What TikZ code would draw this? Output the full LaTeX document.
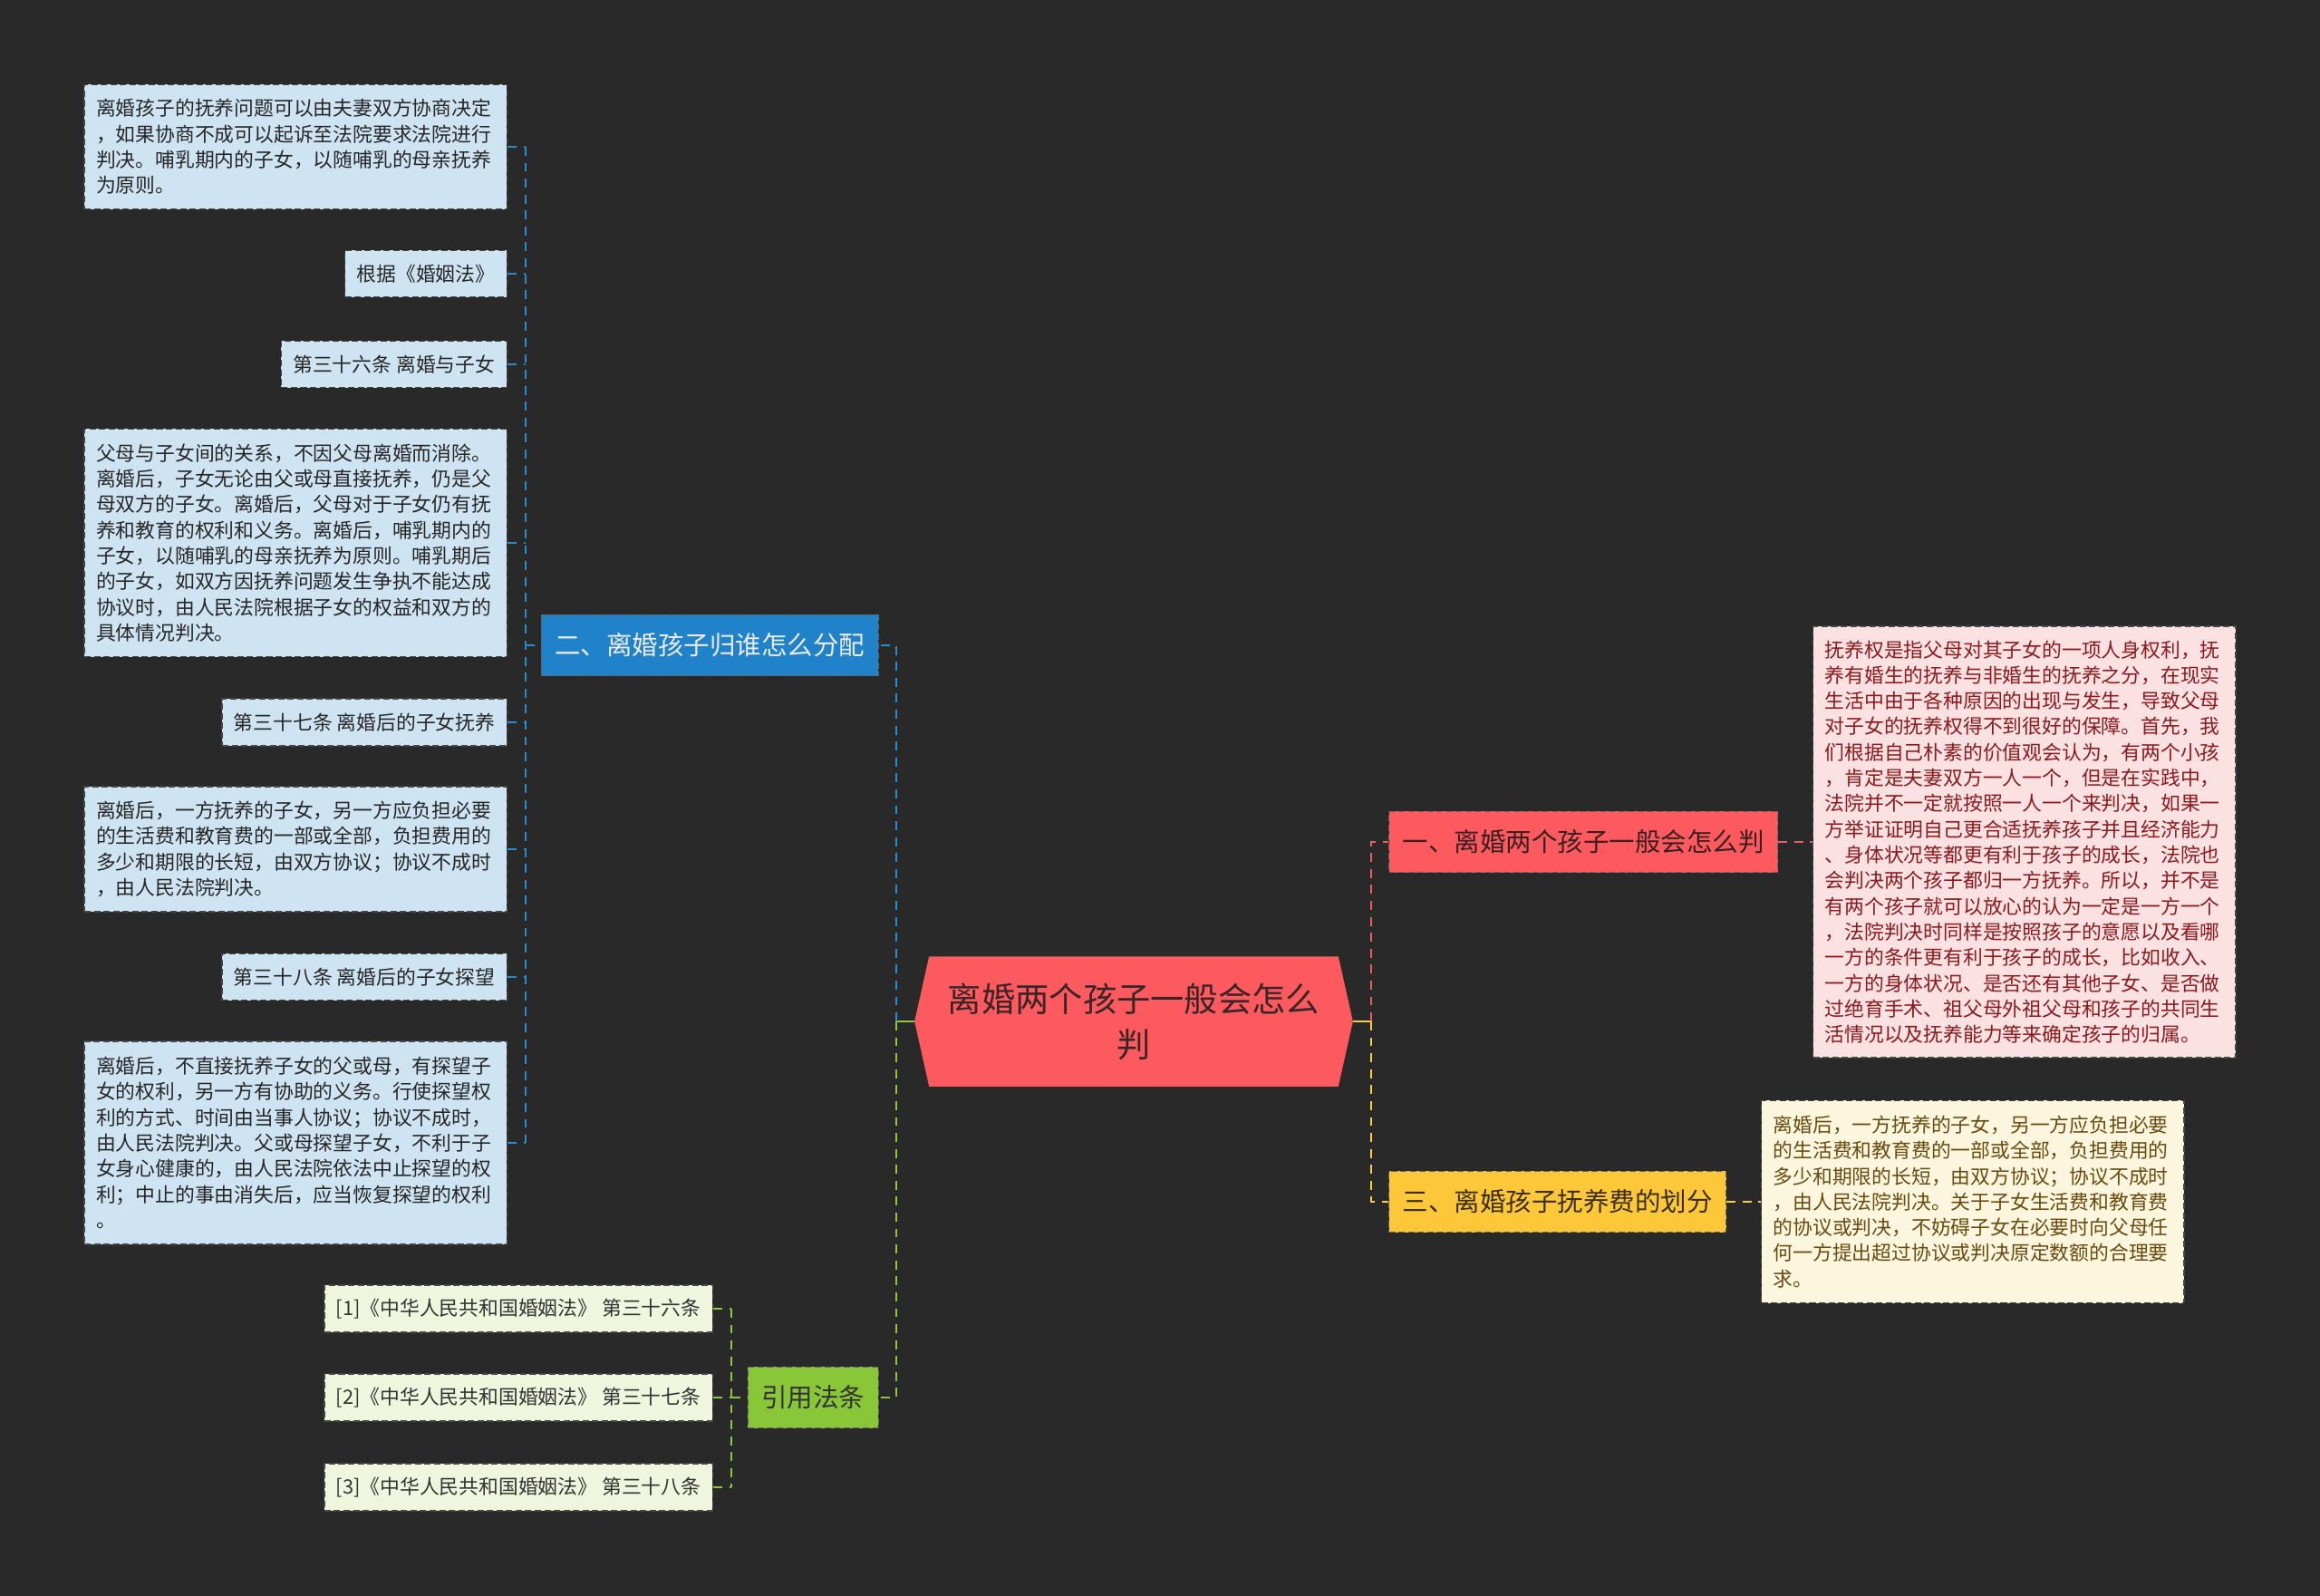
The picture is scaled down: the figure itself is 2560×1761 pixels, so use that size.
\documentclass[tikz,border=0pt]{standalone}
\usepackage{fontspec}
\setmainfont{Noto Sans CJK SC}
\usepackage{xcolor}
\usepackage{tikz}
\usetikzlibrary{backgrounds}
\definecolor{bgdark}{RGB}{41,41,41}
\definecolor{leafline}{RGB}{70,70,70}
\definecolor{bluepale}{RGB}{207,228,242}
\definecolor{greenpale}{RGB}{240,245,222}
\definecolor{pinkpale}{RGB}{252,225,227}
\definecolor{cream}{RGB}{253,246,222}
\definecolor{custblue}{RGB}{32,130,200}
\definecolor{rootred}{RGB}{252,90,94}
\definecolor{judgered}{RGB}{252,90,94}
\definecolor{supportamber}{RGB}{252,200,58}
\definecolor{citegreen}{RGB}{137,198,56}
\definecolor{linkblue}{RGB}{40,140,210}
\definecolor{linkred}{RGB}{235,95,100}
\definecolor{linkyellow}{RGB}{250,205,70}
\definecolor{linkgreen}{RGB}{140,200,60}
\definecolor{darkred}{RGB}{140,26,28}
\definecolor{brown}{RGB}{105,75,15}

\begin{document}
\begin{tikzpicture}[x=0.01cm, y=-0.01cm,
    leaf/.style={draw=leafline, dash pattern=on 2pt off 1pt, line width=0.4pt,
                 font=\fontsize{6.2pt}{8.05pt}\selectfont, inner xsep=0.13cm,
                 inner ysep=0.06cm, align=left},
    blueleaf/.style={leaf, fill=bluepale, text=black!85},
    greenleaf/.style={leaf, fill=greenpale, text=black!80},
    branch/.style={draw=black!60, dash pattern=on 2pt off 1pt, line width=0.4pt,
                   font=\fontsize{8.1pt}{10pt}\selectfont, inner xsep=0.15cm,
                   minimum height=0.67cm},
    link/.style={line width=0.6pt, dash pattern=on 2.8pt off 2.2pt},
    bluelink/.style={link, linkblue},
    redlink/.style={link, linkred},
    yellowlink/.style={link, linkyellow},
    greenlink/.style={link, linkgreen}]

% root
\node[minimum width=4.82cm, minimum height=1.42cm, align=center, text={rgb,255:red,58;green,36;blue,38},
      font=\fontsize{10.6pt}{14.2pt}\selectfont] (root) at (1251,1127) {离婚两个孩子一般会怎么\\判};

% branches
\node[branch, fill=custblue, text=white!92!black, anchor=east] (custody) at (970,712) {二、离婚孩子归谁怎么分配};
\node[branch, fill=citegreen, text=black!80, anchor=east] (cite) at (970,1542) {引用法条};
\node[branch, fill=judgered, text={rgb,255:red,58;green,30;blue,32}, anchor=west] (judge) at (1532,929) {一、离婚两个孩子一般会怎么判};
\node[branch, fill=supportamber, text={rgb,255:red,60;green,44;blue,16}, anchor=west] (support) at (1532,1326) {三、离婚孩子抚养费的划分};

% custody leaves
\node[blueleaf, text width=4.40cm, minimum height=1.37cm, anchor=east] (cus1) at (560,162)
  {离婚孩子的抚养问题可以由夫妻双方协商决定\\，如果协商不成可以起诉至法院要求法院进行\\判决。哺乳期内的子女，以随哺乳的母亲抚养\\为原则。};
\node[blueleaf, minimum height=0.51cm, anchor=east] (cus2) at (560,302) {根据《婚姻法》};
\node[blueleaf, minimum height=0.51cm, anchor=east] (cus3) at (560,402) {第三十六条 离婚与子女};
\node[blueleaf, text width=4.40cm, minimum height=2.51cm, anchor=east] (cus4) at (560,599)
  {父母与子女间的关系，不因父母离婚而消除。\\离婚后，子女无论由父或母直接抚养，仍是父\\母双方的子女。离婚后，父母对于子女仍有抚\\养和教育的权利和义务。离婚后，哺乳期内的\\子女，以随哺乳的母亲抚养为原则。哺乳期后\\的子女，如双方因抚养问题发生争执不能达成\\协议时，由人民法院根据子女的权益和双方的\\具体情况判决。};
\node[blueleaf, minimum height=0.52cm, anchor=east] (cus5) at (560,797) {第三十七条 离婚后的子女抚养};
\node[blueleaf, text width=4.40cm, minimum height=1.38cm, anchor=east] (cus6) at (560,937)
  {离婚后，一方抚养的子女，另一方应负担必要\\的生活费和教育费的一部或全部，负担费用的\\多少和期限的长短，由双方协议；协议不成时\\，由人民法院判决。};
\node[blueleaf, minimum height=0.51cm, anchor=east] (cus7) at (560,1078) {第三十八条 离婚后的子女探望};
\node[blueleaf, text width=4.40cm, minimum height=2.24cm, anchor=east] (cus8) at (560,1261)
  {离婚后，不直接抚养子女的父或母，有探望子\\女的权利，另一方有协助的义务。行使探望权\\利的方式、时间由当事人协议；协议不成时，\\由人民法院判决。父或母探望子女，不利于子\\女身心健康的，由人民法院依法中止探望的权\\利；中止的事由消失后，应当恢复探望的权利\\。};

% cited articles
\node[greenleaf, minimum height=0.52cm, anchor=east] (art1) at (787,1444) {[1]《中华人民共和国婚姻法》 第三十六条};
\node[greenleaf, minimum height=0.52cm, anchor=east] (art2) at (787,1542) {[2]《中华人民共和国婚姻法》 第三十七条};
\node[greenleaf, minimum height=0.52cm, anchor=east] (art3) at (787,1641) {[3]《中华人民共和国婚姻法》 第三十八条};

% right leaves
\node[leaf, fill=pinkpale, text=darkred, text width=4.40cm, minimum height=4.76cm, anchor=west] (judgetxt) at (2000,929)
  {抚养权是指父母对其子女的一项人身权利，抚\\养有婚生的抚养与非婚生的抚养之分，在现实\\生活中由于各种原因的出现与发生，导致父母\\对子女的抚养权得不到很好的保障。首先，我\\们根据自己朴素的价值观会认为，有两个小孩\\，肯定是夫妻双方一人一个，但是在实践中，\\法院并不一定就按照一人一个来判决，如果一\\方举证证明自己更合适抚养孩子并且经济能力\\、身体状况等都更有利于孩子的成长，法院也\\会判决两个孩子都归一方抚养。所以，并不是\\有两个孩子就可以放心的认为一定是一方一个\\，法院判决时同样是按照孩子的意愿以及看哪\\一方的条件更有利于孩子的成长，比如收入、\\一方的身体状况、是否还有其他子女、是否做\\过绝育手术、祖父母外祖父母和孩子的共同生\\活情况以及抚养能力等来确定孩子的归属。};
\node[leaf, fill=cream, text=brown, text width=4.40cm, minimum height=2.23cm, anchor=west] (supporttxt) at (1943,1326)
  {离婚后，一方抚养的子女，另一方应负担必要\\的生活费和教育费的一部或全部，负担费用的\\多少和期限的长短，由双方协议；协议不成时\\，由人民法院判决。关于子女生活费和教育费\\的协议或判决，不妨碍子女在必要时向父母任\\何一方提出超过协议或判决原定数额的合理要\\求。};

% connectors
\coordinate (lj) at ([xshift=-0.2cm]root.west);
\coordinate (rj) at ([xshift=0.2cm]root.east);
\coordinate (bj) at (580,712);
\coordinate (gj) at (807,1542);

\draw[linkgreen, line width=0.6pt] (root.west) -- (lj);
\draw[bluelink] (lj) |- (custody.east);
\draw[greenlink] (lj) |- (cite.east);
\draw[linkyellow, line width=0.6pt] (root.east) -- (rj);
\draw[redlink] (rj) |- (judge.west);
\draw[yellowlink] (rj) |- (support.west);
\draw[redlink] (judge.east) -- (judgetxt.west);
\draw[yellowlink] (support.east) -- (supporttxt.west);

\draw[bluelink] (bj) -- (custody.west);
\draw[bluelink] (cus1.east -| bj) -- (cus8.east -| bj);
\foreach \n in {1,...,8}
  \draw[bluelink] (cus\n.east) -- (cus\n.east -| bj);

\draw[greenlink] (gj) -- (cite.west);
\draw[greenlink] (art1.east -| gj) -- (art3.east -| gj);
\foreach \n in {1,2,3}
  \draw[greenlink] (art\n.east) -- (art\n.east -| gj);

\begin{scope}[on background layer]
  \fill[bgdark] (0,0) rectangle (2560,1761);
  \fill[rootred] (root.west) -- ([xshift=0.16cm]root.north west) -- ([xshift=-0.16cm]root.north east)
    -- (root.east) -- ([xshift=-0.16cm]root.south east) -- ([xshift=0.16cm]root.south west) -- cycle;
\end{scope}
\end{tikzpicture}
\end{document}
